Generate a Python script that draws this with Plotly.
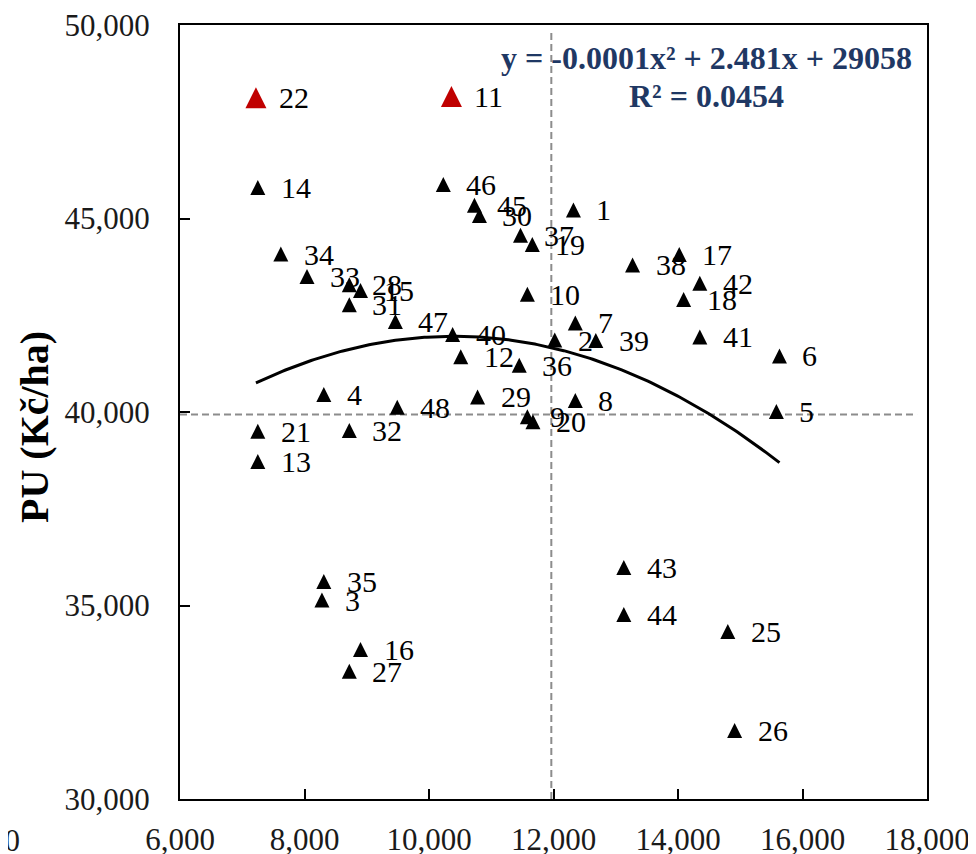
import numpy as np
import plotly.graph_objects as go

# ---------------- data ----------------
POINT_IDS = [1, 2, 3, 4, 5, 6, 7, 8, 9, 10, 11, 12, 13, 14, 15, 16, 17, 18, 19, 20,
             21, 22, 25, 26, 27, 28, 29, 30, 31, 32, 33, 34, 35, 36, 37, 38, 39, 40,
             41, 42, 43, 44, 45, 46, 47, 48]
X_VALUES = [12320, 12020, 8280, 8310, 15580, 15630, 12350, 12350, 11580, 11580,
            10360, 10510, 7250, 7250, 8900, 8900, 14020, 14090, 11660, 11670,
            7250, 7220, 14800, 14910, 8720, 8720, 10780, 10810, 8720, 8720,
            8040, 7620, 8310, 11450, 11470, 13270, 12680, 10380, 14350, 14350,
            13130, 13130, 10730, 10230, 9460, 9490]
Y_VALUES = [45220, 41860, 35140, 40450, 40010, 41450, 42300, 40300, 39880, 43040,
            48150, 41430, 38720, 45800, 43140, 33860, 44070, 42910, 44330, 39750,
            39500, 48120, 34330, 31770, 33300, 43290, 40390, 45080, 42770, 39520,
            43500, 44080, 35620, 41210, 44570, 43800, 41850, 42000, 41940, 43330,
            35980, 34770, 45340, 45880, 42340, 40120]
HIGHLIGHT_IDS = [22, 11]

TREND_COEFFS = [-0.0001193, 2.481, 29058]      # quadratic trend shown on chart
EQUATION_TEXT = "y = -0.0001x² + 2.481x + 29058"
R2_TEXT = "R² = 0.0454"

MEAN_X = 11965           # vertical dashed reference line
MEAN_Y = 39935           # horizontal dashed reference line
H_LINE_X_END = 17840
V_LINE_Y_END = 49820

X_RANGE = [6000, 18000]
Y_RANGE = [30000, 50000]
X_TICKS = [6000, 8000, 10000, 12000, 14000, 16000, 18000]
Y_TICKS = [30000, 35000, 40000, 45000, 50000]
Y_TITLE = "PU (Kč/ha)"

# ---------------- layout constants ----------------
PAGE_PAD = 8                       # default body margin of the html page
W, H = 976, 854
# plot frame in window pixels: left 180, top 25, right 927, bottom 799
ML, MT = 180 - PAGE_PAD, 25 - PAGE_PAD
MR, MB = W - (927 - PAGE_PAD), H - (799 - PAGE_PAD)
PLOT_W = W - ML - MR
PLOT_H = H - MT - MB
UNITS_PER_PX = (Y_RANGE[1] - Y_RANGE[0]) / PLOT_H

FONT = "Liberation Serif, Times New Roman, serif"
NAVY = "#1F3864"
RED = "#C00000"
BLACK_SIZE = 15
RED_SIZE = 21
LABEL_SIZE = 30
TICK_SIZE = 31


def px_x(sx):
    """window x pixel -> paper fraction"""
    return (sx - PAGE_PAD - ML) / PLOT_W


def px_y(sy):
    """window y pixel -> paper fraction"""
    return (MT + PLOT_H - (sy - PAGE_PAD)) / PLOT_H


def shifted_range(px):
    d = px * UNITS_PER_PX
    return [Y_RANGE[0] - d, Y_RANGE[1] - d]


hl = [p in HIGHLIGHT_IDS for p in POINT_IDS]
xb = [x for x, h in zip(X_VALUES, hl) if not h]
yb = [y for y, h in zip(Y_VALUES, hl) if not h]
xr = [x for x, h in zip(X_VALUES, hl) if h]
yr = [y for y, h in zip(Y_VALUES, hl) if h]

fig = go.Figure()

# dashed reference lines
fig.add_trace(go.Scatter(x=[X_RANGE[0], H_LINE_X_END], y=[MEAN_Y, MEAN_Y], mode="lines",
                         line=dict(color="#8C8C8C", width=2, dash="7px,4px"),
                         hoverinfo="skip", showlegend=False))
fig.add_trace(go.Scatter(x=[MEAN_X, MEAN_X], y=[Y_RANGE[0], V_LINE_Y_END], mode="lines",
                         line=dict(color="#8C8C8C", width=2, dash="7px,4px"),
                         hoverinfo="skip", showlegend=False))

# trend curve over the data's x span
tx = np.linspace(min(X_VALUES), max(X_VALUES), 200)
ty = np.polyval(TREND_COEFFS, tx)
fig.add_trace(go.Scatter(x=tx, y=ty, mode="lines", line=dict(color="black", width=3),
                         hoverinfo="skip", showlegend=False))

# markers (arrow-up has tip at the point; overlay axes re-centre the glyph)
fig.add_trace(go.Scatter(x=xb, y=yb, mode="markers", yaxis="y2",
                         marker=dict(symbol="arrow-up", size=BLACK_SIZE, color="black",
                                     line=dict(width=0)),
                         showlegend=False))
fig.add_trace(go.Scatter(x=xr, y=yr, mode="markers", yaxis="y3",
                         marker=dict(symbol="arrow-up", size=RED_SIZE, color=RED,
                                     line=dict(width=0)),
                         showlegend=False))

annotations = []
for pid, x, y in zip(POINT_IDS, X_VALUES, Y_VALUES):
    annotations.append(dict(x=x, y=y, xref="x", yref="y", text=str(pid), showarrow=False,
                            xanchor="left", yanchor="middle", xshift=21, yshift=0,
                            font=dict(family=FONT, size=LABEL_SIZE, color="black")))

# equation text
annotations.append(dict(x=px_x(706), y=px_y(58), xref="paper", yref="paper",
                        text=f"<b>{EQUATION_TEXT}</b>", showarrow=False,
                        xanchor="center", yanchor="middle",
                        font=dict(family=FONT, size=32, color=NAVY)))
annotations.append(dict(x=px_x(706), y=px_y(96), xref="paper", yref="paper",
                        text=f"<b>{R2_TEXT}</b>", showarrow=False,
                        xanchor="center", yanchor="middle",
                        font=dict(family=FONT, size=32, color=NAVY)))
# y axis title
annotations.append(dict(x=px_x(34), y=px_y(427), xref="paper", yref="paper",
                        text=f"<b>{Y_TITLE}</b>", textangle=-90, showarrow=False,
                        xanchor="center", yanchor="middle",
                        font=dict(family=FONT, size=40, color="black")))
# clipped fragment of a neighbouring label at the bottom-left edge
annotations.append(dict(x=px_x(22), y=px_y(840), xref="paper", yref="paper",
                        text="00", showarrow=False, xanchor="right", yanchor="middle",
                        font=dict(family=FONT, size=TICK_SIZE, color="#1a1a1a")))

axis_common = dict(showgrid=False, zeroline=False, showline=True, linecolor="black",
                   linewidth=2, mirror=True, ticks="inside", ticklen=10, tickwidth=2,
                   tickcolor="black", tickformat=",", automargin=False,
                   ticklabeloverflow="allow",
                   tickfont=dict(family=FONT, size=TICK_SIZE, color="#1a1a1a"))

fig.update_layout(
    width=W, height=H,
    margin=dict(l=ML, r=MR, t=MT, b=MB, autoexpand=False),
    paper_bgcolor="white", plot_bgcolor="white",
    showlegend=False,
    xaxis=dict(range=X_RANGE, tickvals=X_TICKS, ticklabelstandoff=12, **axis_common),
    yaxis=dict(range=Y_RANGE, tickvals=Y_TICKS, ticklabelstandoff=22, **axis_common),
    yaxis2=dict(range=shifted_range(BLACK_SIZE / 2), overlaying="y", visible=False,
                showgrid=False, zeroline=False),
    yaxis3=dict(range=shifted_range(RED_SIZE / 2), overlaying="y", visible=False,
                showgrid=False, zeroline=False),
    annotations=annotations,
)

fig.write_html("out.html")
